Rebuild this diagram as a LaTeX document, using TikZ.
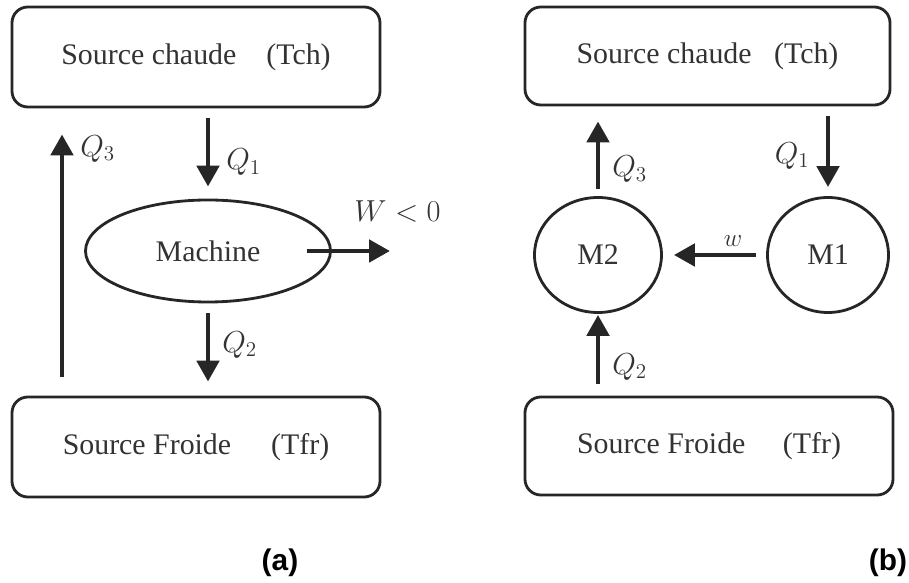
\documentclass[tikz,border=0pt]{standalone}
\usepackage{fontspec}
\setmainfont{Liberation Serif}
\newfontfamily\capfont{Liberation Sans}
\usetikzlibrary{arrows.meta,shapes.geometric,positioning,calc}

\begin{document}
\begin{tikzpicture}[
  source/.style={rounded corners=9pt, minimum width=7.36cm, minimum height=2cm,
                 draw=black!85, line width=1.6pt, text=black!80,
                 font=\fontsize{17}{20}\selectfont},
  machine/.style={ellipse, draw=black!85, line width=1.6pt, text=black!80,
                  font=\fontsize{17}{20}\selectfont},
  arr/.style={-{Triangle[length=4.2mm, width=4.4mm]}, line width=2.8pt, black!85},
  lbl/.style={font=\fontsize{17}{20}\selectfont, text=black!80},
  subcap/.style={font=\capfont\bfseries\fontsize{17}{20}\selectfont}
]
\useasboundingbox (0,0) rectangle (18.18,11.66);

% (a) one machine
\node[source] (hotA)  at (3.92,10.52) {Source chaude\hspace{0.6cm}(Tch)};
\node[source] (coldA) at (3.92,2.72)  {Source Froide\hspace{0.8cm}(Tfr)\hspace{0.5cm}};
\node[machine, minimum width=4.9cm, minimum height=2.04cm] (mach) at (4.16,6.64) {Machine};
\coordinate (q3a)  at (1.24,0);
\coordinate (wend) at (7.8,6.64);

\draw[arr, shorten <=0.2cm, shorten >=0.24cm] (hotA.south -| mach.north) -- node[pos=0.6, right=0.2cm, lbl]{$Q_1$} (mach.north);
\draw[arr, shorten <=0.2cm, shorten >=0.28cm] (mach.south) -- node[pos=0.45, right=0.12cm, lbl]{$Q_2$} (coldA.north -| mach.south);
\draw[arr, shorten <=0.38cm, shorten >=0.52cm] (q3a |- coldA.north) -- (q3a |- hotA.south)
  node[pos=0.86, right=0.2cm, lbl]{$Q_3$};
\draw[arr] ([xshift=-0.5cm]mach.east) -- (wend)
  node[above=0.4cm, xshift=0.15cm, lbl]{$W<0$};

\node[subcap] (capA) at (5.6,0.4) {(a)};

% (b) two machines
\node[source, minimum width=7.3cm, minimum height=1.96cm] (hotB)  at (14.15,10.54) {Source chaude\hspace{0.45cm}(Tch)};
\node[source, minimum height=1.96cm] (coldB) at (14.18,2.74) {Source Froide\hspace{0.75cm}(Tfr)\hspace{0.5cm}};
\node[machine, minimum width=2.54cm, minimum height=2.3cm] (mTwo) at (11.96,6.56) {M2};
\node[machine, minimum width=2.42cm, minimum height=2.3cm] (mOne) at (16.56,6.56) {M1};

\draw[arr, shorten <=0.2cm, shorten >=0.18cm] (hotB.south -| mOne.north) -- node[pos=0.55, left=0.2cm, lbl]{$Q_1$} (mOne.north);
\draw[arr, shorten <=0.14cm, shorten >=0.3cm] (mTwo.north) -- node[pos=0.3, right=0.12cm, lbl]{$Q_3$} (hotB.south -| mTwo.north);
\draw[arr, shorten <=0.24cm, shorten >=0.02cm] (coldB.north -| mTwo.south) -- node[pos=0.35, right=0.12cm, lbl]{$Q_2$} (mTwo.south);
\draw[arr, shorten <=0.2cm, shorten >=0.22cm] (mOne.west) -- node[pos=0.32, above, lbl, font=\fontsize{14}{16}\selectfont]{$w$} (mTwo.east);

\node[subcap] (capB) at (17.76,0.4) {(b)};
\end{tikzpicture}
\end{document}
